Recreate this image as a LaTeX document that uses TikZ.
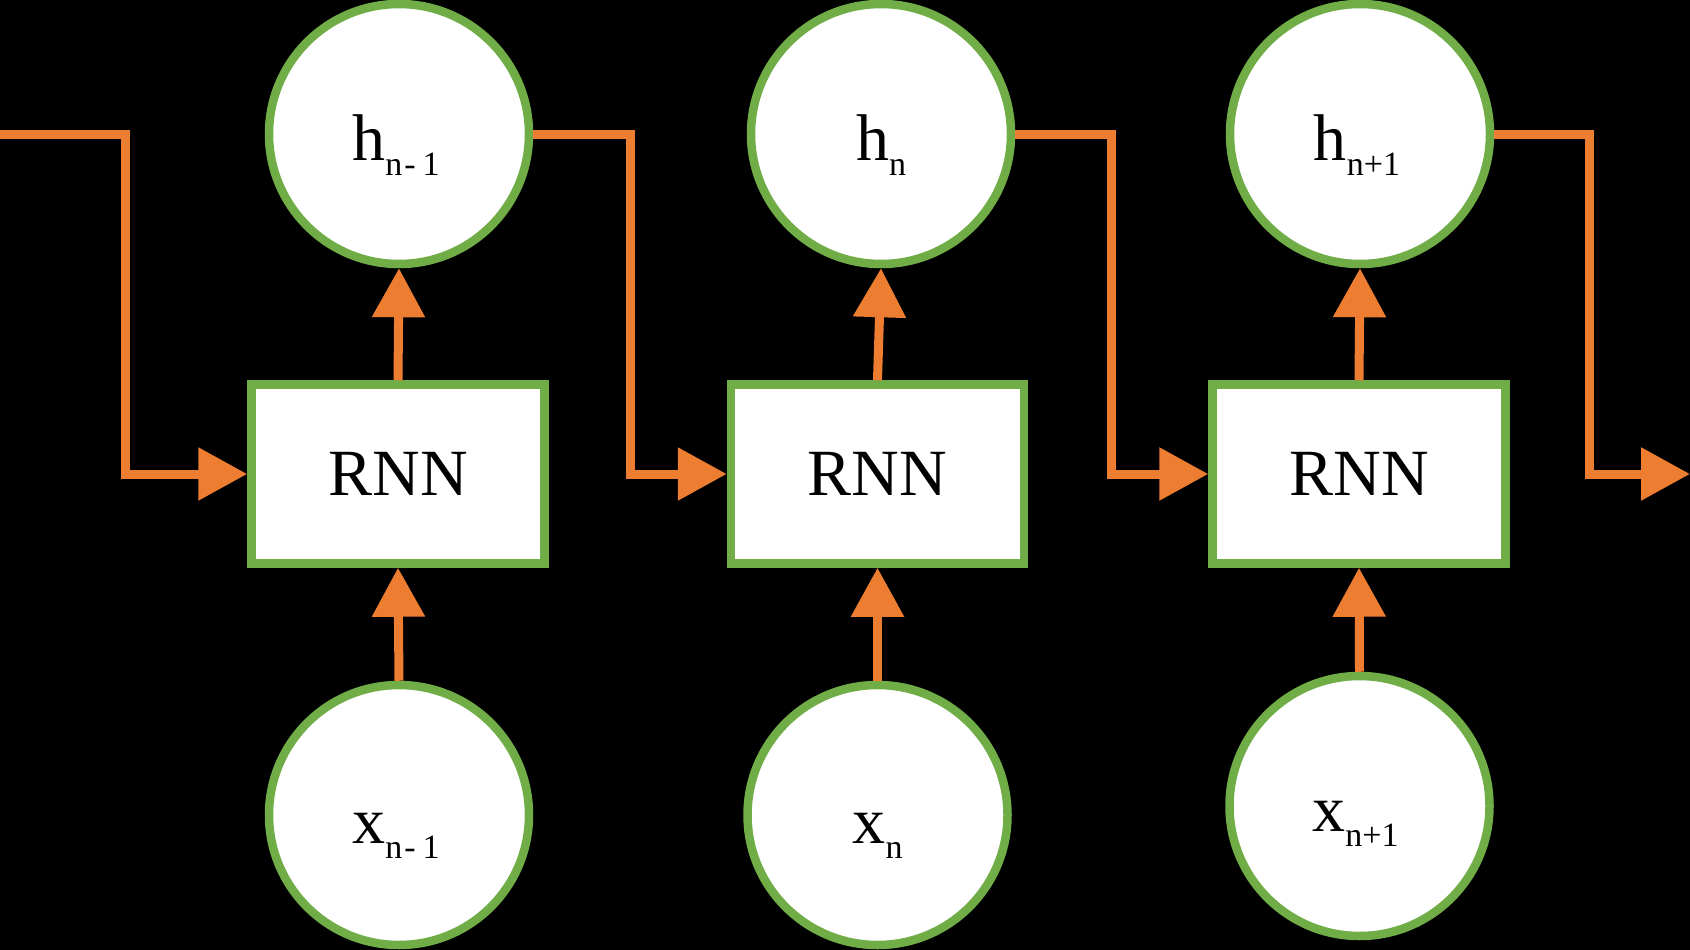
\documentclass[tikz,border=0pt]{standalone}
\usepackage{fontspec}
\setmainfont{Liberation Serif}
\usetikzlibrary{arrows.meta}
\definecolor{rnnorange}{HTML}{ED7D31}
\definecolor{rnngreen}{HTML}{70AD47}
\newcommand{\mainsz}{\fontsize{66}{70}\selectfont}
\newcommand{\subsz}{\fontsize{34}{36}\selectfont}
\newcommand{\lblsub}[2]{#1\raisebox{-15pt}{\subsz #2}}
\tikzset{
  circ/.style={circle, draw=rnngreen, fill=white, line width=8.5pt, minimum size=260pt, inner sep=0pt},
  rnnbox/.style={rectangle, draw=rnngreen, fill=white, line width=8.5pt, minimum width=293pt, minimum height=179pt, inner sep=0pt, font=\mainsz},
  lbl/.style={anchor=base, inner sep=0pt, font=\mainsz},
  arr/.style={draw=rnnorange, line width=9pt, -{Triangle[length=49pt,width=51pt]}, rnnorange},
  wire/.style={draw=rnnorange, line width=9pt}
}
\begin{document}
\begin{tikzpicture}[x=1pt,y=1pt]
\fill[black] (0,0) rectangle (1690,-950);
\useasboundingbox (0,0) rectangle (1690,-950);
% boxes
\node[rnnbox] (b1) at (398,-474) {RNN};
\node[rnnbox] (b2) at (877.5,-474) {RNN};
\node[rnnbox] (b3) at (1359,-474) {RNN};
% hidden circles
\node[circ] (h1) at (399,-134) {};
\node[circ] (h2) at (881,-134) {};
\node[circ] (h3) at (1360,-134) {};
% input circles
\node[circ] (x1) at (399,-815) {};
\node[circ] (x2) at (877.5,-815) {};
\node[circ] (x3) at (1359.5,-806) {};
% labels
\node[lbl] (th1) at ([xshift=-3pt,yshift=-26pt]h1.center) {\lblsub{h}{n\kern2pt-\kern7pt1}};
\node[lbl] (th2) at ([yshift=-26pt]h2.center) {\lblsub{h}{n}};
\node[lbl] (th3) at ([xshift=-3pt,yshift=-26pt]h3.center) {\lblsub{h}{n+1}};
\node[lbl] (tx1) at ([xshift=-3pt,yshift=-28pt]x1.center) {\lblsub{x}{n\kern2pt-\kern7pt1}};
\node[lbl] (tx2) at ([yshift=-28pt]x2.center) {\lblsub{x}{n}};
\node[lbl] (tx3) at ([xshift=-4pt,yshift=-25pt]x3.center) {\lblsub{x}{n+1}};
% vertical arrows
\draw[arr] (b1.north) -- (h1.south);
\draw[arr] (b2.north) -- (h2.south);
\draw[arr] (b3.north) -- (h3.south);
\draw[arr] (x1.north) -- (b1.south);
\draw[arr] (x2.north) -- (b2.south);
\draw[arr] (x3.north) -- (b3.south);
% recurrent connections
\coordinate (in) at (0,-134);
\coordinate (out) at (1690,-474);
\draw[arr] (in) -- ++(125.3,0) |- (b1.west);
\draw[arr] (h1.east) -- ++(97,0) |- (b2.west);
\draw[arr] (h2.east) -- ++(96,0) |- (b3.west);
\draw[arr] (h3.east) -- ++(95,0) |- (out);
\end{tikzpicture}
\end{document}
